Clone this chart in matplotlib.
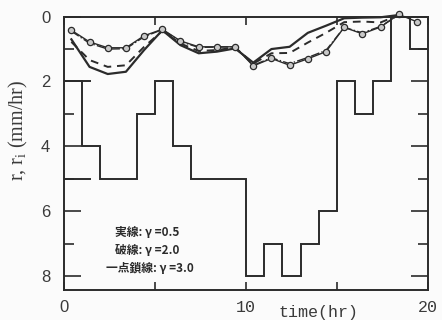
import numpy as np
import matplotlib.pyplot as plt

# hourly rainfall r (mm/hr), hyetograph hung from the top axis
rain_edges = np.arange(0, 21)
rain_r = [2, 4, 5, 5, 3, 2, 4, 5, 5, 5, 8, 7, 8, 7, 6, 2, 3, 2, 0, 1]
# stray short strokes at the first hour, as they appear on the scan
stray_t = [0, 1.45]
stray_r5 = [5, 5]
stray_t2 = [1.0, 1.45]
stray_r2 = [2, 2]

# runoff ri (observed, circles) and computed for three gamma values
t_obs = np.arange(20) + 0.4
r_obs = [0.42, 0.78, 0.96, 0.96, 0.59, 0.39, 0.75, 0.93, 0.93, 0.93,
         1.52, 1.29, 1.50, 1.30, 1.08, 0.33, 0.53, 0.32, -0.07, 0.16]
t_calc = np.arange(19) + 0.4
r_g05 = [0.70, 1.55, 1.77, 1.70, 1.03, 0.42, 0.88, 1.13, 1.08, 0.98,
         1.42, 1.00, 0.93, 0.50, 0.28, 0.05, 0.03, 0.02, -0.05]
r_g20 = [0.78, 1.34, 1.55, 1.50, 0.93, 0.44, 0.83, 1.06, 1.03, 0.95,
         1.45, 1.13, 1.12, 0.80, 0.50, 0.17, 0.15, 0.18, -0.05]
r_g30 = [0.45, 0.82, 1.00, 0.99, 0.62, 0.40, 0.77, 0.95, 0.94, 0.93,
         1.50, 1.27, 1.45, 1.26, 1.04, 0.33, 0.50, 0.30, -0.05]

legend_lines = ['実線: γ =0.5', '破線: γ =2.0', '一点鎖線: γ =3.0']

ink = '#2b2b2b'
fig = plt.figure(figsize=(4.42, 3.2), dpi=100, facecolor='#fbfbfb')
ax = fig.add_axes([0.145, 0.094, 0.823, 0.854], facecolor='#fbfbfb')

ax.stairs(rain_r, rain_edges, baseline=None, color=ink, lw=1.4)
ax.plot(stray_t, stray_r5, color=ink, lw=1.4)
ax.plot(stray_t2, stray_r2, color=ink, lw=1.4)

ax.plot(t_calc, r_g05, '-', color=ink, lw=1.6, clip_on=False)
ax.plot(t_calc, r_g20, '--', color=ink, lw=1.4, dashes=(4, 3), clip_on=False)
ax.plot(t_calc, r_g30, '-.', color=ink, lw=1.0, clip_on=False)
ax.plot(t_obs, r_obs, '-', color=ink, lw=1.0, marker='o', ms=4.5,
        mfc='#c8c8c8', mec=ink, mew=0.9, clip_on=False)

ax.set_xlim(0, 20)
ax.set_ylim(8.43, 0)
for s in ax.spines.values():
    s.set_color(ink)
    s.set_linewidth(1.4)

ax.set_yticks([0, 2, 4, 6, 8])
ax.set_yticks([1, 3, 5, 7], minor=True)
ax.set_xticks([0, 10, 20])
ax.set_xticks([5, 15], minor=True)
ax.tick_params(axis='both', which='both', direction='in', color=ink,
               top=True, right=True, labelcolor='#3a3a3a')
ax.tick_params(axis='y', which='major', length=12, width=1.2, pad=10,
               labelsize=12)
ax.tick_params(axis='y', which='minor', length=7, width=1.2)
ax.tick_params(axis='x', which='both', length=6, width=1.2, pad=7,
               labelsize=12)
for lab in ax.get_yticklabels():
    lab.set_fontfamily('Liberation Sans')
xl = ax.get_xticklabels()
xl[0].set_fontfamily('Liberation Sans')
for lab in xl[1:]:
    lab.set_fontfamily('Liberation Mono')

fig.text(0.72, 0.025, 'time(hr)', family='Liberation Mono', fontsize=12,
         color='#3a3a3a', ha='center', va='center')
fig.text(0.042, 0.594, 'r, r$_\\mathregular{i}$ (mm/hr)', family='Liberation Serif',
         fontsize=14.5, color='#3a3a3a', rotation=90, ha='center', va='center')

for i, s in enumerate(legend_lines):
    ax.text(2.8 if i < 2 else 2.3, 6.65 + 0.56 * i, s, fontsize=8.5,
            family=['Noto Sans CJK JP', 'DejaVu Sans'], color=ink,
            fontweight='bold', va='center', ha='left')

fig.savefig('out.png', dpi=100, facecolor=fig.get_facecolor())
